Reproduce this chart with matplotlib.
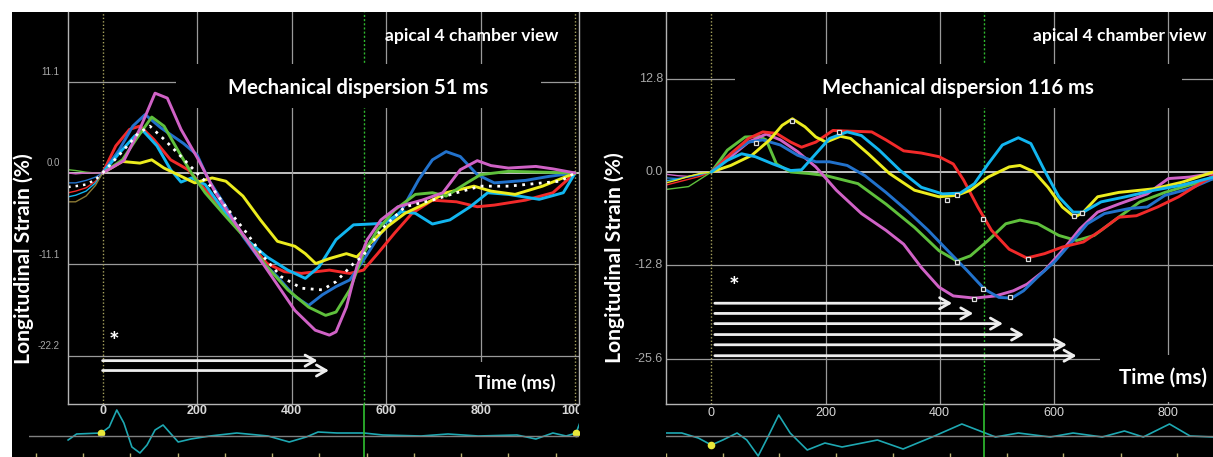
import matplotlib
matplotlib.use("Agg")
import matplotlib.pyplot as plt
import matplotlib.transforms as mtransforms
from matplotlib.patches import Rectangle

W, H = 1213, 457

RED, BLUE, CYAN = '#f22a2a', '#2272cc', '#12b6f0'
YELLOW, GREEN, MAGENTA = '#ecec1e', '#5fc03c', '#d062c6'
GRID = '#9a9a9a'

# ---------------- left panel (dispersion 51 ms) ----------------
L_yticks = [11.1, 0.0, -11.1, -22.2]
L_ylabels = ['11.1', '0.0', '-11.1', '-22.2']
L_xticks = [0, 200, 400, 600, 800, 1000]
L_avc = 553

L_red_t = [0, 28, 57, 79, 108, 144, 181, 217, 261, 305, 348, 385, 421, 480, 523, 552, 582, 618, 655, 698, 749, 793, 829, 895, 953, 1000]
L_red_v = [0, 3.3, 5.3, 5.7, 4.1, 1.6, 0.4, -2.0, -4.9, -8.1, -11.0, -12.0, -12.2, -11.8, -12.2, -11.8, -9.8, -7.3, -4.9, -3.3, -3.5, -4.1, -3.9, -3.3, -2.4, 0]
L_blue_t = [0, 35, 64, 90, 123, 171, 200, 224, 261, 297, 334, 370, 407, 436, 465, 494, 523, 552, 589, 633, 669, 698, 727, 757, 793, 829, 895, 946, 1000]
L_blue_v = [0, 2.8, 5.7, 7.1, 5.5, 3.6, 2.2, -0.8, -4.1, -7.7, -10.6, -12.6, -15.0, -16.1, -14.8, -13.8, -13.0, -10.6, -7.3, -4.5, -0.8, 1.6, 2.6, 2.0, -0.2, -1.2, -0.9, -0.4, 0]
L_cyan_t = [0, 35, 68, 86, 115, 144, 166, 188, 217, 261, 305, 348, 392, 429, 458, 494, 531, 567, 596, 633, 662, 698, 735, 778, 815, 859, 924, 975, 1000]
L_cyan_v = [0, 2.4, 4.5, 5.1, 3.3, 0.4, -1.1, -0.6, -1.4, -4.9, -8.1, -10.2, -11.8, -12.8, -11.4, -8.1, -6.3, -6.2, -6.1, -4.7, -4.9, -6.2, -5.7, -4.1, -2.4, -2.6, -3.2, -2.4, 0]
L_yellow_t = [0, 42, 79, 104, 130, 159, 195, 232, 261, 297, 334, 370, 407, 429, 451, 480, 516, 538, 567, 603, 640, 684, 727, 786, 822, 873, 931, 1000]
L_yellow_v = [0, 1.4, 1.2, 1.6, 0.6, -0.2, -1.2, -0.6, -1.0, -2.8, -5.7, -8.3, -8.9, -9.8, -11.0, -10.4, -9.8, -10.2, -8.5, -6.5, -4.9, -3.7, -2.4, -1.6, -2.2, -2.6, -1.6, 0]
L_green_t = [0, 42, 71, 104, 130, 159, 188, 217, 261, 305, 348, 392, 436, 472, 494, 523, 552, 582, 618, 662, 698, 727, 771, 800, 859, 931, 1000]
L_green_v = [0, 1.6, 4.1, 6.8, 5.7, 2.8, 0.0, -2.4, -5.3, -8.1, -11.4, -14.2, -16.3, -17.3, -16.9, -14.2, -9.8, -6.9, -4.5, -2.6, -2.4, -2.8, -1.2, -0.2, 0.2, 0.1, 0]
L_magenta_t = [0, 45, 80, 111, 137, 166, 203, 239, 276, 319, 363, 407, 450, 480, 494, 516, 538, 560, 589, 625, 676, 720, 757, 793, 822, 859, 917, 953, 1000]
L_magenta_v = [0, 1.5, 5.5, 9.7, 9.1, 5.3, 1.6, -2.4, -5.7, -9.3, -13.0, -16.7, -19.1, -19.7, -19.3, -16.3, -11.4, -8.1, -5.7, -4.1, -3.3, -2.4, 0.4, 1.5, 0.9, 0.6, 0.8, 0.5, 0]
L_avg_t = [0, 40, 75, 100, 130, 166, 203, 232, 261, 305, 341, 378, 421, 465, 494, 531, 552, 589, 640, 698, 749, 800, 859, 968, 1000]
L_avg_v = [0, 2.5, 4.8, 5.7, 4.1, 2.0, -0.2, -1.8, -4.1, -7.3, -10.2, -12.6, -14.0, -14.2, -13.2, -11.0, -10.0, -6.9, -4.1, -3.3, -2.4, -1.6, -1.6, -1.0, 0]

# thin traces before time zero
L_tail_t = [-73, -57, -35, -15, 0]
L_tail_green = [0.4, 0.3, 0.1, 0.0, 0]
L_tail_magenta = [0.0, -0.1, 0.0, 0.0, 0]
L_tail_blue = [-1.2, -1.2, -0.9, -0.5, 0]
L_tail_avg = [-1.7, -1.6, -1.4, -0.8, 0]
L_tail_red = [-2.4, -2.2, -1.8, -1.0, 0]
L_tail_cyan = [-2.9, -2.7, -2.2, -1.2, 0]
L_tail_olive = [-3.5, -3.5, -2.8, -1.5, 0]

L_arrow_end = [455, 479]
L_arrow_v = [-22.8, -24.0]

L_ecg_t = [-73, -55, -3, 14, 30, 45, 62, 79, 94, 111, 128, 143, 160, 187, 227, 284, 350, 395, 431, 456, 496, 553, 593, 674, 731, 795, 877, 917, 953, 981, 1002, 1010]
L_ecg_v = [-0.4, 0.2, 0.3, 0.9, 2.6, 1.3, -1.1, -1.7, -0.9, 0.6, 1.1, 0.3, -0.6, -0.3, 0.0, 0.3, 0.0, -0.6, -0.1, 0.4, 0.3, 0.3, 0.1, 0.0, 0.2, 0.0, 0.1, -0.3, 0.3, 0.0, 0.3, 1.3]
L_ecg_dot_t = [-3, 1002]
L_ecg_dot_v = [0.3, 0.3]
L_frame_ticks = [-141, -41, 59, 159, 259, 359, 459, 559, 659, 759, 859, 959]

# ---------------- right panel (dispersion 116 ms) ----------------
R_yticks = [12.8, 0.0, -12.8, -25.6]
R_ylabels = ['12.8', '0.0', '-12.8', '-25.6']
R_xticks = [0, 200, 400, 600, 800]
R_avc = 478

R_yellow_t = [0, 34, 71, 102, 124, 142, 164, 183, 201, 226, 244, 275, 312, 356, 399, 430, 454, 485, 522, 541, 566, 590, 615, 637, 652, 677, 714, 776, 825, 880]
R_yellow_v = [0, 0.9, 2.3, 4.4, 6.4, 7.3, 6.2, 4.8, 4.1, 4.9, 4.6, 2.5, -0.2, -2.5, -3.4, -3.2, -2.5, -0.7, 0.7, 0.9, 0.0, -2.1, -4.8, -6.2, -5.5, -3.4, -2.8, -2.3, -1.4, 0]
R_cyan_t = [0, 28, 53, 77, 108, 139, 158, 183, 207, 238, 263, 294, 331, 368, 405, 436, 461, 485, 510, 538, 560, 584, 609, 634, 652, 683, 726, 776, 825, 880]
R_cyan_v = [0, 1.6, 2.5, 2.1, 1.1, 0.2, 0.3, 2.5, 4.6, 5.5, 5.0, 3.0, 0.2, -2.1, -3.0, -2.9, -1.6, 1.1, 3.7, 4.7, 3.9, 0.2, -3.4, -5.5, -5.5, -4.1, -3.4, -2.5, -1.8, -0.7]
R_red_t = [0, 34, 65, 90, 114, 139, 158, 183, 213, 244, 281, 306, 337, 368, 399, 424, 442, 467, 491, 522, 553, 584, 615, 652, 683, 714, 745, 782, 819, 856, 880]
R_red_v = [0, 2.5, 4.6, 5.5, 5.3, 4.1, 3.4, 4.1, 5.7, 5.6, 5.5, 4.4, 2.9, 2.6, 2.1, 1.1, -1.1, -4.8, -8.0, -10.6, -11.8, -11.2, -10.3, -9.6, -8.0, -6.2, -6.0, -4.8, -3.4, -1.6, -0.5]
R_green_t = [0, 28, 59, 83, 96, 114, 139, 170, 201, 257, 306, 356, 399, 430, 454, 485, 516, 541, 572, 609, 640, 671, 714, 751, 795, 838, 880]
R_green_v = [0, 3.0, 4.8, 4.9, 4.4, 1.1, 0.0, -0.2, -0.5, -1.6, -4.4, -7.6, -10.8, -12.2, -11.5, -9.4, -7.1, -6.6, -7.1, -8.7, -9.4, -8.7, -6.2, -4.1, -2.8, -1.8, -0.9]
R_blue_t = [0, 34, 65, 90, 121, 151, 183, 207, 238, 269, 306, 343, 380, 417, 448, 479, 504, 526, 547, 572, 603, 634, 659, 689, 733, 764, 795, 838, 880]
R_blue_v = [0, 2.5, 4.1, 4.4, 3.7, 2.3, 1.4, 1.4, 0.9, -0.5, -2.8, -5.3, -8.0, -11.0, -13.5, -16.1, -17.2, -17.3, -16.3, -14.4, -12.2, -9.4, -7.1, -5.7, -5.0, -4.8, -3.2, -2.3, -0.9]
R_magenta_t = [0, 34, 65, 96, 121, 151, 183, 219, 263, 306, 337, 368, 399, 424, 461, 498, 529, 553, 584, 615, 646, 677, 714, 764, 801, 838, 880]
R_magenta_v = [0, 2.1, 4.1, 5.2, 4.4, 2.8, 0.7, -2.5, -5.7, -8.0, -9.9, -13.1, -15.8, -17.0, -17.3, -17.0, -16.3, -15.4, -13.5, -10.8, -7.8, -5.5, -4.4, -3.0, -0.9, -0.7, -0.2]

R_tail_t = [-80, -60, -40, -20, 0]
R_tail_magenta = [-0.3, -0.5, -0.6, -0.3, 0]
R_tail_blue = [-0.8, -0.9, -0.7, -0.4, 0]
R_tail_red = [-1.8, -1.4, -1.0, -0.6, 0]
R_tail_cyan = [-1.2, -1.0, -0.6, -0.3, 0]
R_tail_yellow = [-1.5, -1.1, -0.6, -0.2, 0]
R_tail_green = [-2.4, -2.2, -2.0, -1.0, 0]

# peak markers (small open squares)
R_mark_t = [78, 142, 223, 413, 430, 476, 430, 555, 461, 476, 524, 635, 649]
R_mark_v = [4.0, 7.0, 5.5, -3.8, -3.1, -6.4, -12.3, -11.9, -17.4, -16.0, -17.1, -6.1, -5.6]

R_arrow_end = [422, 459, 511, 548, 623, 640]
R_arrow_v = [-18.0, -19.4, -20.8, -22.3, -23.7, -25.2]

R_ecg_t = [-79, -52, -23, 0, 20, 45, 62, 82, 99, 118, 138, 168, 199, 229, 291, 336, 387, 439, 480, 498, 538, 594, 634, 685, 724, 757, 803, 839, 879]
R_ecg_v = [0.3, 0.3, -0.2, -0.9, -0.4, 0.3, -0.4, -2.0, -0.1, 2.1, 0.3, -1.4, -0.7, -1.1, -0.4, -1.3, -0.1, 1.2, 0.3, -0.1, 0.3, -0.1, 0.3, -0.1, 0.5, -0.1, 1.2, 0.0, -0.1]
R_ecg_dot_t = [0]
R_ecg_dot_v = [-0.9]
R_frame_ticks = [-79, 20, 118, 219, 318, 419, 519, 616, 718, 816]

plt.rcParams['font.family'] = ['Lato', 'DejaVu Sans']

fig = plt.figure(figsize=(W / 100, H / 100), dpi=100, facecolor='white')
fig.add_artist(Rectangle((12 / W, 0), 1 - 12 / W, 1 - 12 / H, transform=fig.transFigure,
                         facecolor='black', edgecolor='none', zorder=-1))


def px_rect(x0, y0, x1, y1):
    return [x0 / W, 1 - y1 / H, (x1 - x0) / W, (y1 - y0) / H]


def ftext(x, y, s, **kw):
    return fig.text(x / W, 1 - y / H, s, **kw)


def fbox(x0, y0, x1, y1):
    fig.add_artist(Rectangle((x0 / W, 1 - y1 / H), (x1 - x0) / W, (y1 - y0) / H,
                             transform=fig.transFigure, facecolor='black', edgecolor='none', zorder=1))


def strain_axes(x0, x1, t0px, pxms, v0px, pxv, right_spine):
    ax = fig.add_axes(px_rect(x0, 12, x1, 404))
    ax.set_facecolor('black')
    ax.set_xlim((x0 - t0px) / pxms, (x1 - t0px) / pxms)
    ax.set_ylim((v0px - 404) / pxv, (v0px - 12) / pxv)
    ax.set_xticks([])
    ax.set_yticks([])
    for k, s in ax.spines.items():
        s.set_color('#b4b4b4')
        s.set_linewidth(1)
        s.set_visible(k in ('left', 'bottom') or (k == 'right' and right_spine))
    return ax


def ecg_axes(x0, x1, t0px, pxms):
    ax = fig.add_axes(px_rect(x0, 404, x1, 457))
    ax.set_facecolor('none')
    ax.set_xlim((x0 - t0px) / pxms, (x1 - t0px) / pxms)
    ax.set_ylim(-2.1, 3.2)
    ax.axis('off')
    return ax


def draw_grid(ax, yticks, ylabels, xgrid, lab_dx, lab_dy, lab_size):
    for v, lab in zip(yticks, ylabels):
        ax.axhline(v, color='#d0d0d0' if v == 0 else GRID, lw=1.3 if v == 0 else 0.9, zorder=1)
        ax.annotate(lab, xy=(0, v), xycoords=('axes fraction', 'data'), xytext=(lab_dx, lab_dy),
                    textcoords='offset points', ha='right', va='center', color='#a8a8a8',
                    fontsize=lab_size, family='Liberation Sans', annotation_clip=False)
    for t in xgrid:
        ax.axvline(t, color=GRID, lw=0.9, zorder=1)
    ax.axvline(0, color='#a6a25e', lw=1, ls=(0, (1, 1.5)), zorder=1)


def draw_ecg(ax, t, v, dot_t, dot_v, avc, frame_ticks, xticks, tick_weight, tick_y, clip):
    ax.plot(t, v, color='#1ea8b2', lw=1.2)
    ax.plot(dot_t, dot_v, ls='none', marker='o', ms=4.5, color='#e8e83a')
    ax.axvline(avc, color='#2fc02f', lw=1.2)
    tr = mtransforms.blended_transform_factory(ax.transData, ax.transAxes)
    ax.vlines(frame_ticks, 0, 0.07, transform=tr, color='#b8b070', lw=1)
    ax.axhline(0.02, color='#808080', lw=1)
    for x in xticks:
        ax.text(x, tick_y, str(x), transform=tr, ha='center', va='center', color='#d8d8d8',
                fontsize=9, weight=tick_weight, family='Liberation Sans', clip_on=clip)


# ---------------- left panel ----------------
axL = strain_axes(68, 579, 102.6, 0.4725, 173, 8.23, True)
draw_grid(axL, L_yticks, L_ylabels, [200, 400, 600, 800], -6, 7, 7)
axL.axvline(1000, color='#a6a25e', lw=1, ls=(0, (1, 1.5)), zorder=1)
axL.axvline(L_avc, color='#2fb82f', lw=1, ls=(0, (1.5, 1.5)), zorder=1)

for vals, c in [(L_tail_green, GREEN), (L_tail_magenta, MAGENTA), (L_tail_blue, BLUE),
                (L_tail_red, RED), (L_tail_cyan, CYAN), (L_tail_olive, '#8c7a34')]:
    axL.plot(L_tail_t, vals, color=c, lw=1, zorder=2)
axL.plot(L_tail_t, L_tail_avg, color='white', lw=1.8, ls=(0, (1, 2)), zorder=2)

for t, v, c in [(L_red_t, L_red_v, RED), (L_blue_t, L_blue_v, BLUE), (L_cyan_t, L_cyan_v, CYAN),
                (L_yellow_t, L_yellow_v, YELLOW), (L_green_t, L_green_v, GREEN),
                (L_magenta_t, L_magenta_v, MAGENTA)]:
    axL.plot(t, v, color=c, lw=2.1, zorder=3, solid_joinstyle='round', solid_capstyle='round')
axL.plot(L_avg_t, L_avg_v, color='white', lw=2, ls=(0, (1, 2)), zorder=4)

for end, v in zip(L_arrow_end, L_arrow_v):
    axL.annotate('', xy=(end, v), xytext=(0, v),
                 arrowprops=dict(arrowstyle='->,head_length=0.7,head_width=0.4', color='#eeeeee',
                                 lw=2, shrinkA=0, shrinkB=0))
axL.text(24, -20.6, '*', color='white', fontsize=18, weight='bold', ha='center', va='center')

ecgL = ecg_axes(29, 579, 102.6, 0.4725)
draw_ecg(ecgL, L_ecg_t, L_ecg_v, L_ecg_dot_t, L_ecg_dot_v, L_avc, L_frame_ticks, L_xticks, 'bold', 0.87, True)

fbox(176, 64, 541, 108)
fbox(462, 362, 570, 402)
ftext(358, 88, 'Mechanical dispersion 51 ms', ha='center', va='center', color='white', fontsize=14.6, weight='bold')
ftext(472, 36, 'apical 4 chamber view', ha='center', va='center', color='white', fontsize=12.6, weight='bold')
ftext(515, 383, 'Time (ms)', ha='center', va='center', color='white', fontsize=13.5, weight='bold')
ftext(24, 259, 'Longitudinal Strain (%)', rotation=90, ha='center', va='center', color='white',
      fontsize=15.2, weight='bold')

# ---------------- right panel ----------------
axR = strain_axes(666, 1213, 711.4, 0.5705, 172, 7.29, False)
draw_grid(axR, R_yticks, R_ylabels, [200, 400, 600, 800], -2, 0, 9)
axR.axvline(R_avc, color='#2fb82f', lw=1, ls=(0, (1.5, 1.5)), zorder=1)

for vals, c in [(R_tail_magenta, MAGENTA), (R_tail_blue, BLUE), (R_tail_red, RED),
                (R_tail_cyan, CYAN), (R_tail_yellow, YELLOW), (R_tail_green, GREEN)]:
    axR.plot(R_tail_t, vals, color=c, lw=1, zorder=2)

for t, v, c in [(R_green_t, R_green_v, GREEN), (R_magenta_t, R_magenta_v, MAGENTA),
                (R_blue_t, R_blue_v, BLUE), (R_red_t, R_red_v, RED),
                (R_yellow_t, R_yellow_v, YELLOW), (R_cyan_t, R_cyan_v, CYAN)]:
    axR.plot(t, v, color=c, lw=2.1, zorder=3, solid_joinstyle='round', solid_capstyle='round')
axR.plot(R_mark_t, R_mark_v, ls='none', marker='s', ms=3.5, mfc='black', mec='#dddddd', mew=0.9, zorder=5)

for end, v in zip(R_arrow_end, R_arrow_v):
    axR.annotate('', xy=(end, v), xytext=(6, v),
                 arrowprops=dict(arrowstyle='->,head_length=0.7,head_width=0.4', color='#eeeeee',
                                 lw=2, shrinkA=0, shrinkB=0))
axR.text(40, -15.8, '*', color='white', fontsize=18, weight='bold', ha='center', va='center')

ecgR = ecg_axes(666, 1213, 711.4, 0.5705)
draw_ecg(ecgR, R_ecg_t, R_ecg_v, R_ecg_dot_t, R_ecg_dot_v, R_avc, R_frame_ticks, R_xticks, 'normal', 0.83, False)

fbox(735, 64, 1182, 108)
fbox(1100, 355, 1213, 402)
ftext(958, 88, 'Mechanical dispersion 116 ms', ha='center', va='center', color='white', fontsize=14.6, weight='bold')
ftext(1120, 36, 'apical 4 chamber view', ha='center', va='center', color='white', fontsize=12.6, weight='bold')
ftext(1163, 378, 'Time (ms)', ha='center', va='center', color='white', fontsize=14.8, weight='bold')
ftext(615, 258, 'Longitudinal Strain (%)', rotation=90, ha='center', va='center', color='white',
      fontsize=15.2, weight='bold')

fig.savefig('out.png', dpi=100, facecolor=fig.get_facecolor())
